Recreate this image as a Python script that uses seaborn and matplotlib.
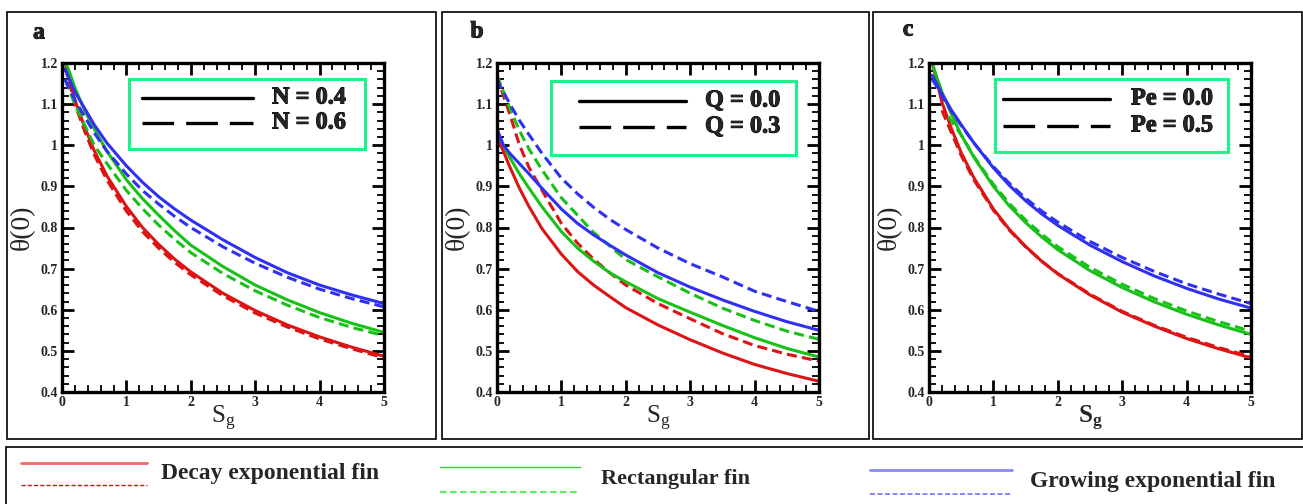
import matplotlib
matplotlib.use("Agg")
import matplotlib.pyplot as plt
import matplotlib.patheffects as pe
from matplotlib.lines import Line2D
from matplotlib.patches import Rectangle
from matplotlib.ticker import MultipleLocator, FuncFormatter
import pandas as pd
import seaborn as sns

# ---------------------------------------------------------------- data
fins = ["Decay exponential fin", "Rectangular fin", "Growing exponential fin"]

# (a) effect of N
sg_a = [0.05, 0.1, 0.2, 0.35, 0.5, 0.7, 1.0, 1.25, 1.5, 1.75, 2.0, 2.5, 3.0, 3.5, 4.0, 4.5, 5.0]
a_decay_n04 = [1.2, 1.17, 1.11, 1.045, 0.987, 0.925, 0.851, 0.80, 0.759, 0.723, 0.692, 0.640, 0.598, 0.563, 0.534, 0.509, 0.487]
a_decay_n06 = [1.19, 1.16, 1.10, 1.035, 0.977, 0.915, 0.84, 0.79, 0.75, 0.715, 0.685, 0.634, 0.592, 0.558, 0.529, 0.505, 0.483]
a_rect_n04 = [1.2, 1.185, 1.14, 1.085, 1.04, 0.985, 0.916, 0.87, 0.83, 0.792, 0.757, 0.705, 0.66, 0.624, 0.593, 0.567, 0.545]
a_rect_n06 = [1.16, 1.14, 1.10, 1.05, 1.0, 0.955, 0.89, 0.846, 0.806, 0.771, 0.739, 0.688, 0.646, 0.611, 0.581, 0.557, 0.537]
a_grow_n04 = [1.185, 1.165, 1.13, 1.09, 1.05, 1.005, 0.95, 0.91, 0.875, 0.845, 0.818, 0.77, 0.727, 0.69, 0.66, 0.636, 0.615]
a_grow_n06 = [1.16, 1.14, 1.11, 1.07, 1.03, 0.985, 0.93, 0.89, 0.857, 0.827, 0.80, 0.753, 0.713, 0.679, 0.65, 0.627, 0.607]

# (b) effect of Q
sg_b = [0.0, 0.1, 0.2, 0.35, 0.5, 0.7, 1.0, 1.25, 1.5, 1.75, 2.0, 2.5, 3.0, 3.5, 4.0, 4.5, 5.0]
b_decay_q0 = [1.02, 0.985, 0.947, 0.895, 0.85, 0.797, 0.735, 0.693, 0.66, 0.632, 0.605, 0.563, 0.527, 0.495, 0.467, 0.445, 0.426]
b_decay_q3 = [1.17, 1.12, 1.075, 1.0, 0.945, 0.89, 0.81, 0.762, 0.723, 0.69, 0.66, 0.615, 0.578, 0.542, 0.513, 0.492, 0.475]
b_rect_q0 = [1.03, 1.0, 0.97, 0.93, 0.895, 0.85, 0.79, 0.75, 0.718, 0.69, 0.668, 0.627, 0.594, 0.562, 0.532, 0.506, 0.485]
b_rect_q3 = [1.17, 1.13, 1.09, 1.035, 0.99, 0.94, 0.872, 0.83, 0.788, 0.755, 0.722, 0.68, 0.64, 0.604, 0.574, 0.548, 0.528]
b_grow_q0 = [1.04, 1.0, 0.98, 0.955, 0.93, 0.895, 0.845, 0.81, 0.782, 0.757, 0.733, 0.69, 0.655, 0.624, 0.596, 0.571, 0.55]
b_grow_q3 = [1.16, 1.13, 1.10, 1.06, 1.025, 0.98, 0.92, 0.882, 0.849, 0.82, 0.795, 0.75, 0.712, 0.68, 0.645, 0.62, 0.596]

# (c) effect of Pe
sg_c = [0.05, 0.1, 0.2, 0.35, 0.5, 0.7, 1.0, 1.25, 1.5, 1.75, 2.0, 2.5, 3.0, 3.5, 4.0, 4.5, 5.0]
sg_c_decay_pe05 = [0.2, 0.35, 0.5, 0.7, 1.0, 1.25, 1.5, 1.75, 2.0, 2.5, 3.0, 3.5, 4.0, 4.5, 5.0]
sg_c_rect_pe05 = [0.3, 0.5, 0.7, 1.0, 1.25, 1.5, 1.75, 2.0, 2.5, 3.0, 3.5, 4.0, 4.5, 5.0]
c_decay_pe0 = [1.2, 1.17, 1.105, 1.04, 0.982, 0.92, 0.845, 0.795, 0.754, 0.718, 0.687, 0.636, 0.594, 0.56, 0.53, 0.505, 0.483]
c_decay_pe05 = [1.085, 1.03, 0.975, 0.915, 0.842, 0.793, 0.753, 0.718, 0.688, 0.638, 0.596, 0.562, 0.533, 0.508, 0.486]
c_rect_pe0 = [1.2, 1.175, 1.13, 1.075, 1.025, 0.97, 0.90, 0.852, 0.812, 0.777, 0.746, 0.695, 0.654, 0.619, 0.589, 0.563, 0.54]
c_rect_pe05 = [1.07, 1.025, 0.972, 0.905, 0.858, 0.818, 0.784, 0.753, 0.703, 0.662, 0.627, 0.597, 0.571, 0.548]
c_grow_pe0 = [1.17, 1.155, 1.125, 1.085, 1.05, 1.005, 0.945, 0.902, 0.865, 0.833, 0.805, 0.757, 0.717, 0.682, 0.652, 0.626, 0.604]
c_grow_pe05 = [1.16, 1.148, 1.12, 1.082, 1.048, 1.005, 0.948, 0.907, 0.871, 0.84, 0.813, 0.766, 0.727, 0.693, 0.663, 0.638, 0.615]

legend_labels = {
    "a": ["N = 0.4", "N = 0.6"],
    "b": ["Q = 0.0", "Q = 0.3"],
    "c": ["Pe = 0.0", "Pe = 0.5"],
}

curves = [
    ("a", fins[0], "solid", sg_a, a_decay_n04),
    ("a", fins[0], "dashed", sg_a, a_decay_n06),
    ("a", fins[1], "solid", sg_a, a_rect_n04),
    ("a", fins[1], "dashed", sg_a, a_rect_n06),
    ("a", fins[2], "solid", sg_a, a_grow_n04),
    ("a", fins[2], "dashed", sg_a, a_grow_n06),
    ("b", fins[0], "solid", sg_b, b_decay_q0),
    ("b", fins[0], "dashed", sg_b, b_decay_q3),
    ("b", fins[1], "solid", sg_b, b_rect_q0),
    ("b", fins[1], "dashed", sg_b, b_rect_q3),
    ("b", fins[2], "solid", sg_b, b_grow_q0),
    ("b", fins[2], "dashed", sg_b, b_grow_q3),
    ("c", fins[0], "solid", sg_c, c_decay_pe0),
    ("c", fins[0], "dashed", sg_c_decay_pe05, c_decay_pe05),
    ("c", fins[1], "solid", sg_c, c_rect_pe0),
    ("c", fins[1], "dashed", sg_c_rect_pe05, c_rect_pe05),
    ("c", fins[2], "solid", sg_c, c_grow_pe0),
    ("c", fins[2], "dashed", sg_c, c_grow_pe05),
]
rows = []
for panel, fin, case, xs, ys in curves:
    for x, y in zip(xs, ys):
        rows.append({"panel": panel, "fin": fin, "case": case, "Sg": x, "theta": y})
df = pd.DataFrame(rows)

# ---------------------------------------------------------------- style
sns.set_style("white")
SERIF = "Liberation Serif"
plt.rcParams["font.family"] = [SERIF, "DejaVu Serif"]
plt.rcParams["mathtext.fontset"] = "custom"
plt.rcParams["mathtext.rm"] = SERIF
plt.rcParams["mathtext.bf"] = SERIF + ":bold"

W, H = 1303, 504
DPI = 100
fig = plt.figure(figsize=(W / DPI, H / DPI), dpi=DPI)
fig.patch.set_facecolor("white")

palette = {fins[0]: "#dd1414", fins[1]: "#18c018", fins[2]: "#3030f0"}
dashes = {"solid": "", "dashed": (3.3, 1.7)}
box_green = "#1ef08c"
heavy = [pe.withStroke(linewidth=0.7, foreground="black")]

AX_W, AX_H, AX_TOP, AX_BOT = 322, 329, 63, 392


def fx(px):
    return px / W


def fy(py):
    return 1 - py / H


# panel frames
for x0, x1 in [(7, 436), (442, 869), (873, 1302)]:
    fig.add_artist(Rectangle((fx(x0), fy(439)), (x1 - x0) / W, (439 - 12) / H,
                             transform=fig.transFigure, fill=False, lw=1.2, ec="black"))

axes_left = {"a": 62, "b": 497, "c": 929}
# key box (x0, x1, y0, y1), handle span (x0, x1), text x, row y's — in figure pixels
key_layout = {
    "a": ((129, 365, 79, 149), (142, 253), 272, (98, 123)),
    "b": ((551, 796, 81, 155), (579, 686), 705, (101, 127)),
    "c": ((995, 1228, 79, 152), (1003, 1110), 1131, (99, 126)),
}
letter_pos = {"a": (39, 33), "b": (477, 32), "c": (908, 30)}

tick_font = {"family": SERIF, "weight": "bold", "size": 10}

for panel in ["a", "b", "c"]:
    left = axes_left[panel]
    ax = fig.add_axes([fx(left), fy(AX_BOT), AX_W / W, AX_H / H])
    sub = df[df["panel"] == panel]
    sns.lineplot(data=sub, x="Sg", y="theta", hue="fin", style="case",
                 palette=palette, dashes=dashes, hue_order=fins,
                 style_order=["solid", "dashed"], estimator=None, sort=False,
                 lw=2.2, legend=False, ax=ax)
    ax.set_xlim(0, 5)
    ax.set_ylim(0.4, 1.2)
    ax.xaxis.set_major_locator(MultipleLocator(1))
    ax.xaxis.set_minor_locator(MultipleLocator(0.2))
    ax.yaxis.set_major_locator(MultipleLocator(0.1))
    ax.yaxis.set_minor_locator(MultipleLocator(0.02))
    ax.xaxis.set_major_formatter(FuncFormatter(lambda v, p: "%g" % round(v, 2)))
    ax.yaxis.set_major_formatter(FuncFormatter(lambda v, p: "%g" % round(v, 2)))
    ax.tick_params(which="both", direction="in", top=True, right=True,
                   bottom=True, left=True, color="black")
    ax.tick_params(which="major", length=8.6, width=2.0, pad=3)
    ax.tick_params(which="minor", length=5.0, width=1.3)
    for lab in ax.get_xticklabels() + ax.get_yticklabels():
        lab.set_fontproperties(tick_font)
    for sp in ax.spines.values():
        sp.set_linewidth(2.4)
        sp.set_color("black")

    ax.set_ylabel("θ(0)", fontsize=20, family=SERIF)
    ax.yaxis.set_label_coords(-0.085, 0.5)
    if panel == "c":
        ax.set_xlabel(r"$\mathbf{S_g}$", fontsize=18)
    else:
        ax.set_xlabel(r"$\mathrm{S_g}$", fontsize=18)
    ax.xaxis.set_label_coords(0.5, -0.035)

    # line-style key inside the axes
    def axx(px):
        return (px - left) / AX_W

    def axy(py):
        return (AX_BOT - py) / AX_H

    (bx0, bx1, by0, by1), (hx0, hx1), tx, (r1, r2) = key_layout[panel]
    ax.add_patch(Rectangle((axx(bx0), axy(by1)), (bx1 - bx0) / AX_W, (by1 - by0) / AX_H,
                           transform=ax.transAxes, facecolor="white", edgecolor=box_green,
                           lw=2.2, clip_on=False, zorder=5))
    for ry, dash, lab in [(r1, None, legend_labels[panel][0]),
                          (r2, (9.5, 3.6), legend_labels[panel][1])]:
        ln = Line2D([axx(hx0), axx(hx1)], [axy(ry), axy(ry)], color="black", lw=2.4,
                    transform=ax.transAxes, zorder=6, clip_on=False)
        if dash:
            ln.set_dashes(dash)
        ax.add_line(ln)
        ax.text(axx(tx), axy(ry), lab, transform=ax.transAxes, ha="left", va="center",
                fontsize=17.5, fontweight="bold", family=SERIF, zorder=6,
                path_effects=heavy)

    lx, ly = letter_pos[panel]
    fig.text(fx(lx), fy(ly), panel, ha="center", va="center",
             fontsize=17, fontweight="bold", family=SERIF, path_effects=heavy)

# shared fin-type key along the bottom
fig.add_artist(Rectangle((fx(6), fy(520)), (1320 - 6) / W, (520 - 447) / H,
                         transform=fig.transFigure, fill=False, lw=1.2, ec="black"))
key = [
    (21, 147, 463, 485, "#f06a6a", 2.0, "#cc1111", 1.0, 161, 474, fins[0], 17),
    (440, 580, 467, 492, "#33cc33", 1.0, "#66ee66", 1.6, 601, 479, fins[1], 16),
    (870, 1012, 470, 494, "#8a8aff", 2.0, "#7070ff", 1.2, 1030, 481, fins[2], 17),
]
for x0, x1, ys, yd, cs, ws, cd, wd, tx, ty, name, fs in key:
    fig.add_artist(Line2D([fx(x0), fx(x1)], [fy(ys), fy(ys)], color=cs, lw=ws,
                          transform=fig.transFigure))
    fig.add_artist(Line2D([fx(x0), fx(x1)], [fy(yd), fy(yd)], color=cd, lw=wd,
                          dashes=(3, 1.5), transform=fig.transFigure))
    fig.text(fx(tx), fy(ty), name, ha="left", va="center", fontsize=fs,
             fontweight="bold", family=SERIF)

fig.savefig("out.png", dpi=DPI, facecolor="white")
